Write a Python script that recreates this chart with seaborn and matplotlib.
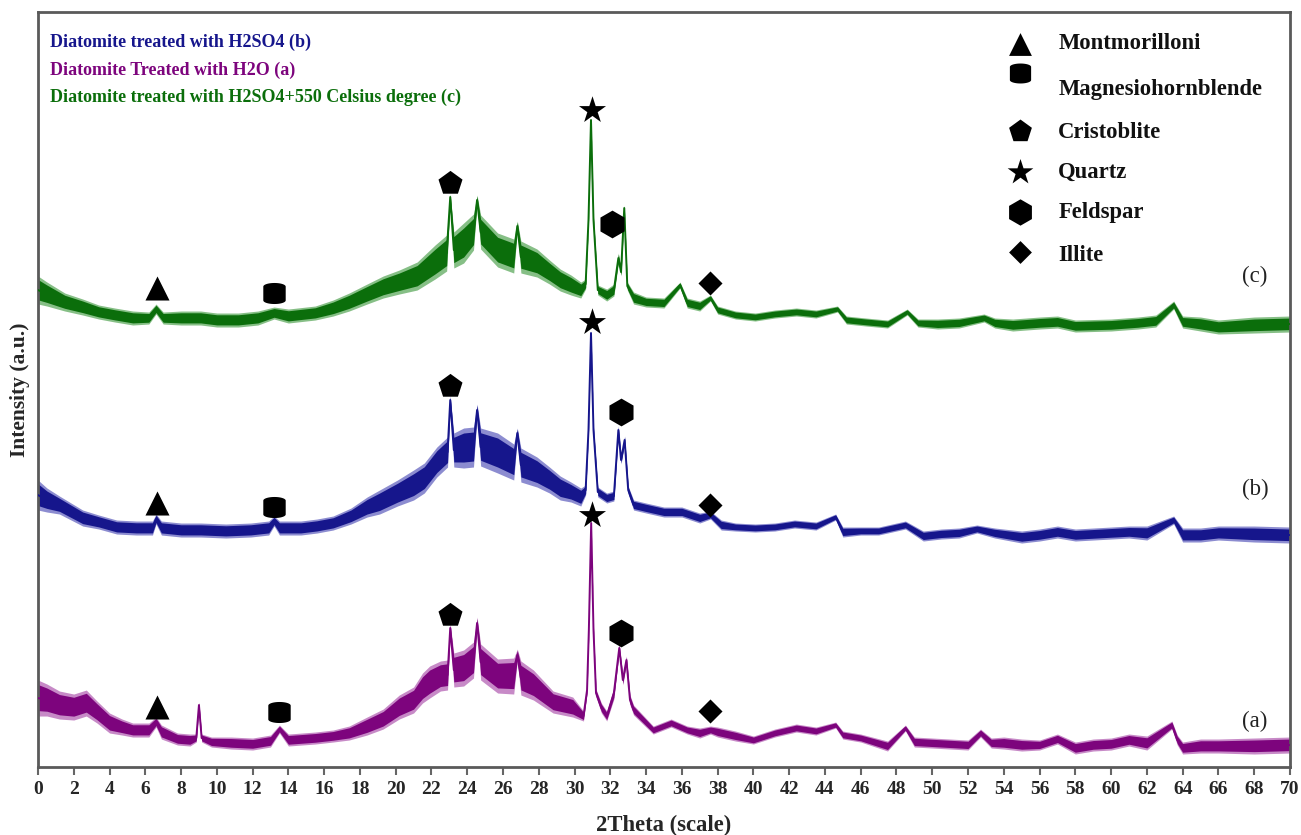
import numpy as np
import pandas as pd
import matplotlib
matplotlib.use("Agg")
import matplotlib.pyplot as plt
import seaborn as sns
from matplotlib.path import Path

# ---------------- data ----------------
# (c) Diatomite treated with H2SO4 + 550 Celsius degree
two_theta_c = [0.0, 0.5, 1.5, 2.5, 3.4, 4.3, 5.3, 6.2, 6.6, 7.0, 8.0, 9.1, 10.0, 11.2, 12.3, 13.2, 14.0,
               15.5, 16.5, 17.4, 18.4, 19.3, 20.2, 21.2, 22.2, 22.85, 23.05, 23.25, 23.8, 24.35, 24.55,
               24.75, 25.7, 26.6, 26.8, 27.0, 27.9, 28.6, 29.2, 29.8, 30.35, 30.62, 30.78, 30.92, 31.06,
               31.3, 31.8, 32.2, 32.45, 32.6, 32.78, 32.95, 33.3, 34.0, 35.0, 35.9, 36.3, 37.0, 37.6,
               38.0, 39.0, 40.1, 41.2, 42.4, 43.5, 44.7, 45.2, 46.3, 47.5, 48.6, 49.2, 50.3, 51.5, 52.9,
               53.5, 54.5, 56.0, 57.0, 58.0, 60.0, 61.5, 62.5, 63.5, 64.0, 65.0, 66.0, 68.0, 70.0]
intensity_c = [477, 473, 465, 460, 455, 452, 449, 449, 458, 449, 449, 449, 447, 447, 449, 454, 451,
               454, 459, 465, 473, 480, 485, 491, 505, 514, 570, 517, 524, 535, 567,
               535, 517, 511, 541, 510, 504, 495, 487, 482, 477, 483, 547, 647, 547,
               477, 472, 477, 509, 495, 559, 481, 469, 465, 464, 482, 464, 461, 469,
               457, 452, 450, 453, 455, 453, 458, 447, 445, 443, 455, 444, 443, 444, 449,
               444, 442, 444, 445, 441, 442, 444, 446, 462, 445, 443, 440, 442, 443]
noise_c = [14, 12, 9, 8, 7, 7, 7, 6, 5, 6, 7, 7, 7, 7, 7, 6, 7,
           7, 8, 9, 10, 11, 12, 14, 17, 18, 3, 18, 20, 18, 5,
           17, 17, 17, 5, 16, 14, 12, 11, 10, 8, 5, 3, 2, 3,
           5, 6, 6, 5, 4, 3, 4, 6, 5, 5, 3, 5, 5, 3,
           4, 4, 4, 4, 4, 4, 3, 4, 4, 4, 3, 4, 5, 5, 4,
           5, 6, 6, 6, 6, 6, 6, 6, 4, 6, 7, 7, 8, 8]

# (b) Diatomite treated with H2SO4
two_theta_b = [0.0, 0.5, 1.2, 2.5, 3.4, 4.4, 5.5, 6.4, 6.6, 6.9, 8.0, 9.1, 10.5, 11.9, 12.9, 13.2, 13.5,
               14.7, 15.6, 16.5, 17.5, 18.4, 19.1, 20.1, 21.0, 21.6, 22.3, 22.9, 23.05, 23.25, 23.8,
               24.35, 24.55, 24.75, 25.7, 26.6, 26.8, 27.0, 27.9, 28.6, 29.2, 29.8, 30.35, 30.62, 30.78,
               30.92, 31.06, 31.3, 31.8, 32.2, 32.45, 32.6, 32.8, 33.0, 33.3, 34.0, 35.0, 36.0, 37.0,
               37.6, 38.2, 39.0, 40.1, 41.2, 42.3, 43.5, 44.6, 45.0, 46.0, 47.0, 48.5, 49.5, 50.5, 51.5,
               52.5, 53.5, 55.0, 56.0, 57.0, 58.0, 59.0, 60.0, 61.0, 62.0, 63.5, 64.0, 65.0, 66.0, 68.0, 70.0]
intensity_b = [272, 267, 262, 249, 245, 240, 239, 239, 248, 239, 237, 237, 236, 237, 239, 246, 239,
               239, 241, 244, 251, 260, 265, 274, 282, 289, 305, 315, 367, 317, 319,
               320, 357, 320, 314, 305, 334, 302, 295, 287, 279, 275, 270, 277, 337,
               434, 337, 275, 269, 271, 337, 307, 327, 277, 262, 259, 255, 255, 249,
               252, 242, 240, 239, 240, 243, 241, 250, 235, 236, 236, 242, 231, 233, 234,
               238, 234, 230, 232, 235, 232, 233, 234, 235, 234, 247, 232, 232, 234, 233, 232]
noise_b = [15, 12, 9, 8, 7, 7, 7, 7, 5, 7, 7, 7, 7, 7, 7, 5, 7,
           7, 7, 7, 8, 10, 12, 13, 15, 15, 15, 15, 4, 17, 20,
           20, 6, 19, 20, 18, 5, 17, 15, 13, 12, 10, 9, 5, 3,
           2, 3, 5, 5, 5, 4, 4, 4, 4, 5, 5, 5, 5, 5,
           4, 5, 4, 4, 4, 4, 4, 3, 5, 4, 4, 4, 5, 5, 5,
           4, 5, 6, 6, 6, 6, 6, 6, 6, 7, 4, 7, 7, 7, 8, 8]

# (a) Diatomite treated with H2O
two_theta_a = [0.0, 0.5, 1.2, 2.0, 2.7, 3.3, 4.0, 4.7, 5.3, 6.2, 6.6, 6.9, 7.8, 8.5, 8.85, 9.0, 9.15,
               9.7, 10.8, 12.0, 13.0, 13.5, 14.0, 15.5, 16.5, 17.4, 18.4, 19.3, 20.2, 21.0, 21.5, 21.9,
               22.5, 22.9, 23.05, 23.25, 23.8, 24.35, 24.55, 24.75, 25.7, 26.6, 26.8, 27.0, 27.7, 28.8,
               29.9, 30.5, 30.7, 30.8, 30.93, 31.06, 31.2, 31.5, 31.8, 32.2, 32.5, 32.7, 32.9, 33.1,
               33.3, 34.4, 35.4, 36.3, 37.0, 37.6, 38.0, 39.0, 40.0, 41.2, 42.4, 43.5, 44.6, 45.0, 46.0,
               47.5, 48.5, 49.0, 50.0, 51.0, 52.0, 52.7, 53.3, 54.0, 55.0, 56.0, 57.0, 58.0, 59.0, 60.0,
               61.0, 62.0, 63.4, 63.7, 64.0, 65.0, 66.0, 68.0, 70.0]
intensity_a = [69, 67, 62, 60, 64, 55, 44, 40, 37, 37, 45, 35, 28, 27, 29, 62, 29,
               25, 24, 23, 26, 38, 27, 29, 31, 34, 41, 48, 60, 67, 79, 85,
               91, 92, 139, 97, 99, 107, 144, 105, 91, 91, 112, 89, 82, 65,
               60, 51, 77, 137, 244, 137, 74, 59, 51, 74, 119, 87, 107, 67,
               57, 37, 44, 37, 34, 37, 35, 31, 27, 34, 39, 36, 42, 32, 29,
               21, 39, 25, 24, 23, 22, 34, 24, 24, 22, 22, 28, 19, 22, 23,
               27, 24, 42, 27, 19, 21, 21, 21, 22]
noise_a = [18, 16, 14, 13, 13, 11, 10, 8, 7, 7, 5, 7, 6, 6, 4, 3, 4,
           5, 6, 6, 6, 4, 6, 6, 6, 7, 9, 10, 12, 13, 15, 16,
           15, 15, 4, 17, 18, 18, 6, 18, 17, 18, 6, 17, 15, 11,
           10, 5, 4, 3, 2, 3, 4, 5, 5, 6, 4, 5, 4, 5,
           5, 4, 4, 4, 5, 4, 5, 5, 4, 4, 4, 4, 3, 4, 4,
           5, 3, 5, 5, 5, 5, 4, 5, 6, 6, 5, 5, 6, 6, 6,
           6, 7, 4, 5, 6, 7, 7, 8, 8]

sample_labels = ["(a)", "(b)", "(c)"]
sample_names = ["Diatomite treated with H2SO4 (b)",
                "Diatomite Treated with H2O (a)",
                "Diatomite treated with H2SO4+550 Celsius degree (c)"]

# phase identification markers
phase_names = ["Montmorilloni", "Magnesiohornblende", "Cristoblite", "Quartz", "Feldspar", "Illite"]
phase_pos_a = [6.65, 13.5, 23.05, 30.95, 32.6, 37.6]
phase_pos_b = [6.65, 13.2, 23.05, 30.95, 32.6, 37.6]
phase_pos_c = [6.65, 13.2, 23.05, 30.95, 32.1, 37.6]
phase_h_a = [60, 55, 152, 252, 134, 56]
phase_h_b = [264, 260, 381, 445, 355, 262]
phase_h_c = [479, 474, 584, 657, 543, 484]

x_ticks = list(range(0, 71, 2))

# ---------------- styling ----------------
sns.set_theme(style="white")
plt.rcParams["font.family"] = ["Liberation Serif", "DejaVu Serif"]

dark = {"(a)": "#7d047d", "(b)": "#16168c", "(c)": "#0b6e0b"}
light = {"(a)": "#c78ac7", "(b)": "#8c8cd0", "(c)": "#86bf86"}

# cylinder-like marker
t1 = np.linspace(0, np.pi, 25)
t2 = np.linspace(np.pi, 2 * np.pi, 25)
verts = np.vstack([np.column_stack([np.cos(t1), 0.62 + 0.32 * np.sin(t1)]),
                   np.column_stack([np.cos(t2), -0.62 + 0.32 * np.sin(t2)])])
verts = np.vstack([verts, verts[:1]])
codes = [Path.MOVETO] + [Path.LINETO] * (len(verts) - 2) + [Path.CLOSEPOLY]
cylinder = Path(verts, codes)

phase_markers = ["^", cylinder, "p", "*", "h", "D"]
phase_sizes = [300, 260, 330, 420, 400, 150]

fig = plt.figure(figsize=(13.01, 8.35), dpi=100)
ax = fig.add_axes([0.0292, 0.0814, 0.9623, 0.9042])

series = {
    "(a)": (two_theta_a, intensity_a, noise_a, phase_pos_a, phase_h_a),
    "(b)": (two_theta_b, intensity_b, noise_b, phase_pos_b, phase_h_b),
    "(c)": (two_theta_c, intensity_c, noise_c, phase_pos_c, phase_h_c),
}

frames = []
for lab, (x, y, n, _, _) in series.items():
    frames.append(pd.DataFrame({"two_theta": x, "intensity": y, "sample": lab}))
df = pd.concat(frames, ignore_index=True)

for lab, (x, y, n, _, _) in series.items():
    x = np.asarray(x, float); y = np.asarray(y, float); n = np.asarray(n, float)
    ax.fill_between(x, y - n, y + n, color=light[lab], lw=0, zorder=1)
    ax.fill_between(x, y - 0.7 * n, y + 0.75 * n, color=dark[lab], lw=0, zorder=2)

sns.lineplot(data=df, x="two_theta", y="intensity", hue="sample", palette=dark,
             estimator=None, sort=False, lw=1.4, legend=False, ax=ax, zorder=3)

for lab, (_, _, _, pos, h) in series.items():
    for m, s, px, py in zip(phase_markers, phase_sizes, pos, h):
        ax.scatter([px], [py], marker=m, s=s, color="black", zorder=5, linewidths=0)

# legend of phases (manual)
sym_y = [0.958, 0.919, 0.843, 0.788, 0.735, 0.682]
txt_y = [0.958, 0.897, 0.840, 0.788, 0.735, 0.677]
for m, s, sy, ty, name in zip(phase_markers, phase_sizes, sym_y, txt_y, phase_names):
    ax.scatter([0.784], [sy], marker=m, s=s * 0.9, color="black", transform=ax.transAxes,
               zorder=6, linewidths=0, clip_on=False)
    ax.text(0.815, ty, name, transform=ax.transAxes, fontsize=16.3, fontweight="bold",
            ha="left", va="center", color="#111111")

# sample names top-left
name_colors = [dark["(b)"], dark["(a)"], dark["(c)"]]
for yy, nm, c in zip([0.960, 0.923, 0.887], sample_names, name_colors):
    ax.text(0.0096, yy, nm, transform=ax.transAxes, fontsize=13, fontweight="bold",
            color=c, ha="left", va="center")

# curve labels
for yy, lab in zip([0.060, 0.368, 0.650], sample_labels):
    ax.text(0.972, yy, lab, transform=ax.transAxes, fontsize=16.5, ha="center", va="center",
            color="#222222")

ax.set_xlim(0, 70)
ax.set_ylim(0, 755)
ax.set_xticks(x_ticks)
ax.set_xticklabels([str(t) for t in x_ticks], fontsize=14, fontweight="bold")
ax.set_yticks([])
ax.tick_params(axis="x", direction="out", length=6, width=1.5, color="#666666", pad=4,
               bottom=True)
for sp in ax.spines.values():
    sp.set_color("#5a5a5a")
    sp.set_linewidth(2)
ax.set_xlabel("2Theta (scale)", fontsize=16.3, fontweight="bold", labelpad=12)
ax.set_ylabel("Intensity (a.u.)", fontsize=15.5, fontweight="bold", labelpad=6)

fig.savefig("out.png", dpi=100)
